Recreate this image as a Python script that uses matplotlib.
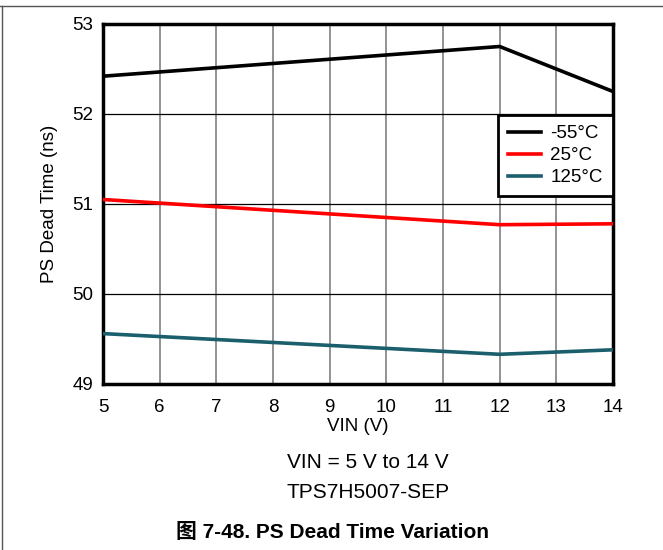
import matplotlib.pyplot as plt
from matplotlib.lines import Line2D

plt.rcParams['font.family'] = ['Liberation Sans', 'Noto Sans CJK SC', 'DejaVu Sans']

# data
vin = [5, 12, 14]
t_m55 = [52.42, 52.75, 52.25]
t_25 = [51.05, 50.77, 50.78]
t_125 = [49.56, 49.33, 49.38]
labels = ["-55°C", "25°C", "125°C"]
colors = ["#000000", "#ff0000", "#1b5e6c"]

xticks = list(range(5, 15))
yticks = [49, 50, 51, 52, 53]

fig = plt.figure(figsize=(6.63, 5.5), dpi=100)
ax = fig.add_axes([103 / 663, 1 - 384 / 550, 510 / 663, 360 / 550])

for ys, lab, c in zip([t_m55, t_25, t_125], labels, colors):
    ax.plot(vin, ys, color=c, lw=2.6, label=lab, zorder=3)

ax.set_xlim(5, 14)
ax.set_ylim(49, 53)
ax.set_xticks(xticks)
ax.set_yticks(yticks)
ax.tick_params(length=0, labelsize=13.5)
ax.tick_params(axis="x", pad=11)
ax.tick_params(axis="y", pad=7)
ax.xaxis.grid(True, color="#808080", lw=1.2)
ax.yaxis.grid(True, color="#000000", lw=0.9)
for s in ax.spines.values():
    s.set_linewidth(2.5)
ax.set_xlabel("VIN (V)", fontsize=13.5, labelpad=1)
ax.set_ylabel("PS Dead Time (ns)", fontsize=13.5, labelpad=10)

leg = ax.legend(loc="upper right", bbox_to_anchor=(1.0, 1 - 91 / 360), fontsize=13.5,
                frameon=True, fancybox=False, borderaxespad=0, handlelength=1.75,
                labelspacing=0.25, handletextpad=0.5, borderpad=0.55)
leg.get_frame().set_edgecolor("black")
leg.get_frame().set_linewidth(2)
leg.get_frame().set_alpha(1)

fig.text(368 / 663, 1 - 462 / 550, "VIN = 5 V to 14 V", ha="center", va="center", fontsize=15)
fig.text(368 / 663, 1 - 492 / 550, "TPS7H5007-SEP", ha="center", va="center", fontsize=15)
fig.text(333 / 663, 1 - 533 / 550, "图 7-48. PS Dead Time Variation", ha="center", va="center",
         fontsize=15, fontweight="bold")

# page frame lines
fig.add_artist(Line2D([0, 1], [1 - 6 / 550, 1 - 6 / 550], color="#555555", lw=1))
fig.add_artist(Line2D([2 / 663, 2 / 663], [0, 1 - 6 / 550], color="#555555", lw=1))

fig.savefig("out.png", dpi=100)
